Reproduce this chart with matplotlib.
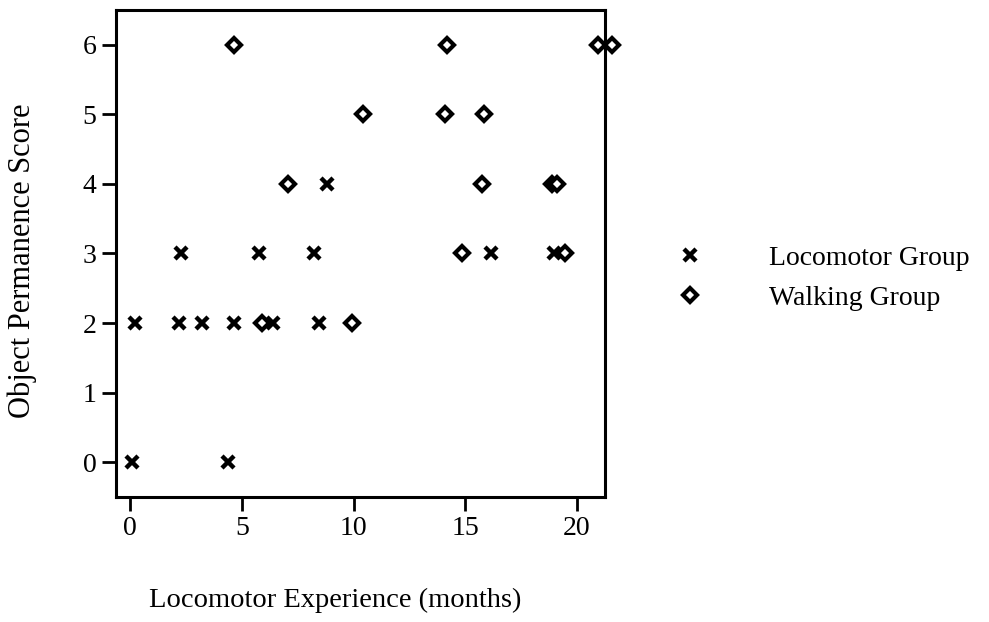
import matplotlib
matplotlib.use("Agg")
import matplotlib.pyplot as plt

# Locomotor group: months of locomotor experience and object permanence score
loco_x = [0.1, 0.2, 2.3, 2.2, 3.2, 4.65, 4.4, 5.75, 6.4, 8.25, 8.45, 8.8, 16.15, 18.95]
loco_y = [0, 2, 3, 2, 2, 2, 0, 3, 2, 3, 2, 4, 3, 3]

# Walking group
walk_x = [4.65, 7.05, 5.9, 9.95, 10.4, 14.2, 14.1, 15.85, 15.75, 18.9, 19.1, 14.85, 19.45, 20.95, 21.55]
walk_y = [6, 4, 2, 2, 5, 6, 5, 5, 4, 4, 4, 3, 3, 6, 6]

x_ticks = [0, 5, 10, 15, 20]
y_ticks = [0, 1, 2, 3, 4, 5, 6]

plt.rcParams["font.family"] = ["Liberation Serif", "DejaVu Serif"]

fig = plt.figure(figsize=(9.89, 6.22), dpi=100)
ax = fig.add_axes([0.1173, 0.201, 0.4944, 0.783])

ax.plot(loco_x, loco_y, linestyle="none", marker="x", markersize=8,
        markeredgewidth=3.2, color="black", label="Locomotor Group",
        clip_on=False)
ax.plot(walk_x, walk_y, linestyle="none", marker="D", markersize=7.5,
        markeredgewidth=3.0, markerfacecolor="white", markeredgecolor="black",
        label="Walking Group", clip_on=False)

ax.set_xlim(-0.63, 21.25)
ax.set_ylim(-0.5, 6.5)
ax.set_xticks(x_ticks)
ax.set_yticks(y_ticks)
ax.tick_params(direction="out", length=10, width=2, labelsize=20, pad=4)
for sp in ax.spines.values():
    sp.set_linewidth(2.2)

fig.text(0.022, 0.58, "Object Permanence Score", rotation=90,
         ha="center", va="center", fontsize=22)
fig.text(0.339, 0.035, "Locomotor Experience (months)",
         ha="center", va="center", fontsize=20.5)

ax.legend(loc="center left", bbox_to_anchor=(0.672, 0.553), bbox_transform=fig.transFigure,
          frameon=False, fontsize=20, handlelength=1.0, handletextpad=2.37,
          labelspacing=0.51, borderaxespad=0)

fig.savefig("out.png", dpi=100)
